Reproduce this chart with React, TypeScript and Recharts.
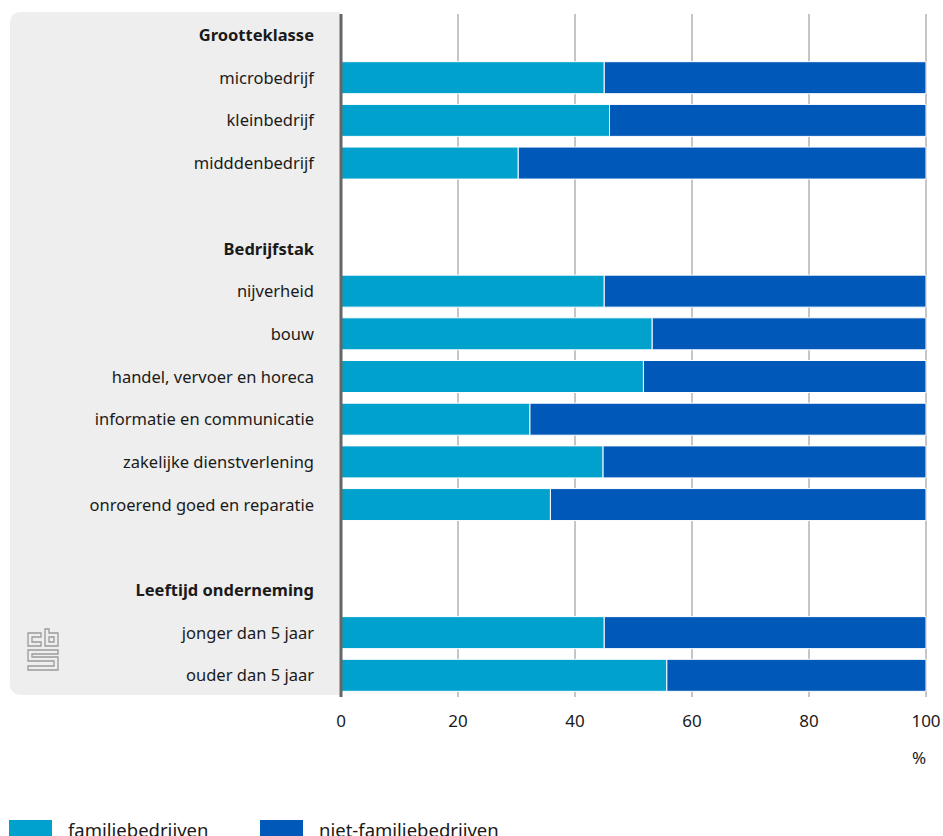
import React from 'react';
import { BarChart, Bar, XAxis, YAxis, CartesianGrid } from 'recharts';

const categories = [
  'Grootteklasse',
  'microbedrijf',
  'kleinbedrijf',
  'midddenbedrijf',
  ' ',
  'Bedrijfstak',
  'nijverheid',
  'bouw',
  'handel, vervoer en horeca',
  'informatie en communicatie',
  'zakelijke dienstverlening',
  'onroerend goed en reparatie',
  '  ',
  'Leeftijd onderneming',
  'jonger dan 5 jaar',
  'ouder dan 5 jaar',
];

const headers = ['Grootteklasse', 'Bedrijfstak', 'Leeftijd onderneming'];

const familie = [null, 45.0, 45.9, 30.3, null, null, 45.0, 53.2, 51.7, 32.3, 44.8, 35.8, null, null, 45.0, 55.7];
const nietFamilie = [null, 55.0, 54.1, 69.7, null, null, 55.0, 46.8, 48.3, 67.7, 55.2, 64.2, null, null, 55.0, 44.3];

const xTicks = [0, 20, 40, 60, 80, 100];

const FONT = "'Noto Sans', sans-serif";
const COLORS = { familie: '#00a1cd', niet: '#0058b8' };

const data = categories.map((name, i) => ({
  name,
  familie: familie[i],
  niet: nietFamilie[i],
}));

const CategoryTick = (props: any) => {
  const { x, y, payload } = props;
  const isHeader = headers.includes(payload.value);
  return (
    <text
      x={x}
      y={y}
      dy="0.35em"
      textAnchor="end"
      fill="#1a1a1a"
      fontSize={16.5}
      fontFamily={FONT}
      fontWeight={isHeader ? 700 : 400}
    >
      {payload.value.trim()}
    </text>
  );
};

const CbsLogo = () => (
  <svg width={34} height={46} viewBox="0 0 34 46" style={{ position: 'absolute', left: 26, top: 627 }}>
    <g fill="none" stroke="#9a9a9a" strokeWidth={1.3}>
      <path d="M2 6 H15 V10 H6 V15 H15 V19 H2 Z" />
      <path d="M19 2 H23 V6 H32 V19 H19 Z M23 10 V15 H28 V10 Z" />
      <path d="M2 23 H32 V27 H6 V30 H32 V43 H2 V39 H28 V34 H2 Z" />
    </g>
  </svg>
);

export default function App() {
  return (
    <div style={{ position: 'absolute', left: 0, top: 0, width: 943, height: 836, background: '#fff', overflow: 'hidden', fontFamily: FONT }}>
      <div
        style={{
          position: 'absolute',
          left: 10,
          top: 12,
          width: 330,
          height: 683,
          background: '#eeeeee',
          borderTopLeftRadius: 10,
          borderBottomLeftRadius: 10,
        }}
      />
      <CbsLogo />
      <div style={{ position: 'absolute', left: 0, top: 0 }}>
        <BarChart
          width={943}
          height={836}
          data={data}
          layout="vertical"
          margin={{ top: 14, right: 17, bottom: 109, left: 0 }}
          barSize={32}
        >
          <CartesianGrid horizontal={false} stroke="#8c8c8c" strokeWidth={1} />
          <XAxis
            type="number"
            domain={[0, 100]}
            ticks={xTicks}
            height={30}
            axisLine={false}
            tickLine={false}
            tickSize={0}
            tickMargin={18}
            tick={{ fill: '#1a1a1a', fontSize: 17, fontFamily: FONT }}
          />
          <YAxis
            type="category"
            dataKey="name"
            width={341}
            axisLine={{ stroke: '#666666', strokeWidth: 3 }}
            tickLine={false}
            tickSize={0}
            tickMargin={27}
            interval={0}
            tick={<CategoryTick />}
          />
          <Bar dataKey="familie" stackId="a" fill={COLORS.familie} stroke="#ffffff" strokeWidth={1} isAnimationActive={false} />
          <Bar dataKey="niet" stackId="a" fill={COLORS.niet} stroke="#ffffff" strokeWidth={1} isAnimationActive={false} />
        </BarChart>
      </div>
      <div style={{ position: 'absolute', left: 912, top: 746, fontSize: 17, color: '#1a1a1a' }}>%</div>
      <div style={{ position: 'absolute', left: 9, top: 820, display: 'flex', alignItems: 'flex-start', fontSize: 18.5, color: '#1a1a1a' }}>
        <div style={{ width: 43, height: 20, background: COLORS.familie }} />
        <div style={{ marginLeft: 16, marginTop: -3, width: 192 }}>familiebedrijven</div>
        <div style={{ width: 43, height: 20, background: COLORS.niet }} />
        <div style={{ marginLeft: 16, marginTop: -3 }}>niet-familiebedrijven</div>
      </div>
    </div>
  );
}
